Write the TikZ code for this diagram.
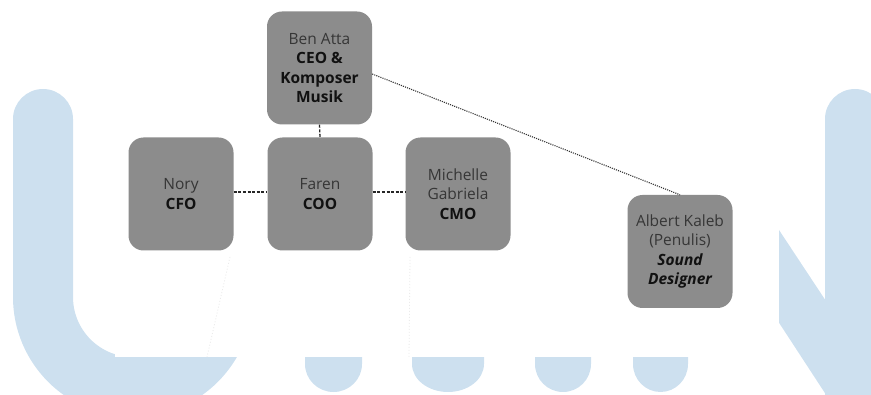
\documentclass[tikz,border=0pt]{standalone}
\usepackage{fontspec}
\setmainfont{Open Sans}
\definecolor{wm}{HTML}{CDE0EF}
\definecolor{boxg}{HTML}{8C8C8C}
\definecolor{namec}{HTML}{363636}
\definecolor{titlec}{HTML}{111111}
\begin{document}
\begin{tikzpicture}[x=1pt,y=1pt,
  orgbox/.style={rectangle, rounded corners=15pt, fill=boxg, minimum width=105pt,
    minimum height=113pt, inner sep=0pt, align=center, text=namec,
    font=\fontsize{15.5}{19.6}\selectfont},
  link/.style={line width=1.3pt, dash pattern=on 3pt off 1.6pt, black!85},
  dotlink/.style={line width=1.1pt, dash pattern=on 1.1pt off 1.1pt, black!80},
  faint/.style={line width=0.8pt, dash pattern=on 1pt off 2pt, black!8}]
\useasboundingbox (0,0) rectangle (871,394);
\clip (0,0) rectangle (871,394);
% watermark U
\draw[wm, line width=60pt, line cap=round] (43,275) -- (43,97) arc[start angle=180, end angle=360, radius=90];
% watermark M legs
\foreach \xa/\xb in {305/362, 412/484, 535/591, 633/688}{
  \fill[wm] (\xa,60) -- (\xa,30) arc[start angle=180, end angle=360, x radius={(\xb-\xa)/2}, y radius=28] -- (\xb,60) -- cycle;
}
% watermark N
\draw[wm, line width=60pt, line cap=round] (855,275) -- (855,-40);
\fill[wm] (740,223) -- (900,-19) -- (900,-114) -- (740,131) -- cycle;
% white panel of the chart
\fill[white] (115,37) rectangle (779,400);
% faint traces
\coordinate (f1a) at (230,137);
\coordinate (f1b) at (207,37);
\coordinate (f2a) at (410,137);
\coordinate (f2b) at (409,37);
\draw[faint] (f1a) -- (f1b);
\draw[faint] (f2a) -- (f2b);
% boxes
\node[orgbox] (ben) at (319.5,326) {Ben Atta\\\textbf{\color{titlec}CEO \&}\\\textbf{\color{titlec}Komposer}\\\textbf{\color{titlec}Musik}};
\node[orgbox] (faren) at (320,200) {Faren\\\textbf{\color{titlec}COO}};
\node[orgbox] (nory) at (181,200) {Nory\\\textbf{\color{titlec}CFO}};
\node[orgbox] (mich) at (458,200) {Michelle\\Gabriela\\\textbf{\color{titlec}CMO}};
\node[orgbox] (albert) at (680,142.5) {Albert Kaleb\\(Penulis)\\\textbf{\textit{\color{titlec}Sound}}\\\textbf{\textit{\color{titlec}Designer}}};
% connectors
\draw[link] (ben.south) -- (faren.north);
\draw[link] ([yshift=2pt]nory.east) -- ([yshift=2pt]faren.west);
\draw[link] ([yshift=2pt]faren.east) -- ([yshift=2pt]mich.west);
\draw[dotlink] ([yshift=-6pt]ben.east) -- (albert.north);
\end{tikzpicture}
\end{document}
